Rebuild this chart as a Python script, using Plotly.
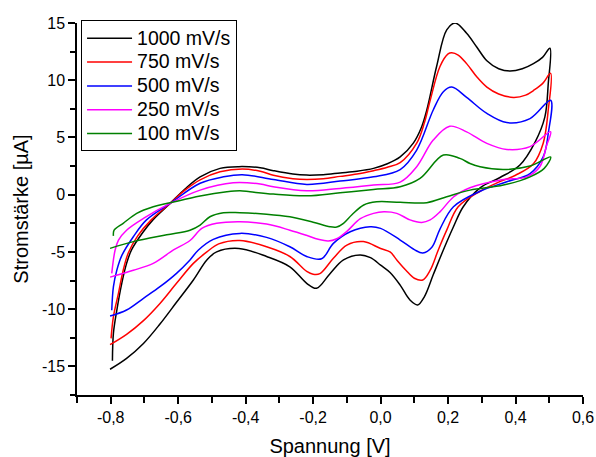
import plotly.graph_objects as go

# ---- data (potential in V, current in µA), scan order: forward then reverse ----
v1000 = [-0.795, -0.792, -0.782, -0.767, -0.753, -0.738, -0.705, -0.675, -0.624, -0.58, -0.535, -0.476, -0.42, -0.357,
         -0.318, -0.26, -0.219, -0.17, -0.12, -0.07, -0.021, 0.02, 0.058, 0.097, 0.12, 0.137, 0.166, 0.196, 0.221,
         0.255, 0.285, 0.315, 0.35, 0.384, 0.42, 0.453, 0.48, 0.502,
         0.497, 0.487, 0.458, 0.413, 0.354, 0.295, 0.245, 0.216, 0.186, 0.156, 0.13, 0.11, 0.087, 0.058, 0.028, 0.0,
         -0.03, -0.061, -0.11, -0.15, -0.19, -0.219, -0.269, -0.338, -0.42, -0.486, -0.515, -0.555, -0.605, -0.654,
         -0.703, -0.753, -0.802]
i1000 = [-14.5, -12.1, -10.1, -7.7, -6.0, -4.8, -3.3, -2.2, -0.76, 0.5, 1.56, 2.3, 2.45, 2.35,
         2.1, 1.8, 1.71, 1.75, 1.9, 2.05, 2.3, 2.7, 3.3, 4.5, 5.8, 7.4, 11.2, 14.4, 15.0,
         14.1, 12.9, 11.7, 11.0, 10.8, 11.0, 11.45, 12.0, 12.8,
         9.7, 6.8, 4.6, 2.6, 1.5, 0.6, -1.05, -2.8, -4.83, -7.0, -8.9, -9.63, -9.2, -7.9, -6.8, -6.15,
         -5.5, -5.27, -5.7, -6.9, -8.18, -7.74, -6.3, -5.4, -4.7, -5.0, -5.7, -7.45, -9.4, -11.3,
         -13.0, -14.3, -15.25]

v750 = [-0.799, -0.792, -0.777, -0.763, -0.748, -0.72, -0.68, -0.624, -0.58, -0.535, -0.476, -0.41, -0.357,
        -0.318, -0.26, -0.219, -0.17, -0.12, -0.07, -0.021, 0.02, 0.058, 0.107, 0.13, 0.147, 0.176, 0.2, 0.211,
        0.23, 0.255, 0.285, 0.315, 0.35, 0.394, 0.43, 0.453, 0.48, 0.504,
        0.497, 0.482, 0.453, 0.40, 0.35, 0.295, 0.23, 0.196, 0.171, 0.147, 0.125, 0.1, 0.075, 0.048, 0.028, 0.0,
        -0.051, -0.1, -0.14, -0.18, -0.2, -0.219, -0.269, -0.338, -0.417, -0.48, -0.515, -0.555, -0.605, -0.654,
        -0.703, -0.753, -0.802]
i750 = [-12.55, -10.65, -8.6, -6.6, -5.1, -3.6, -2.2, -0.76, 0.4, 1.3, 2.0, 2.25, 2.05,
        1.7, 1.4, 1.33, 1.4, 1.6, 1.8, 2.1, 2.4, 2.8, 4.5, 6.3, 8.25, 11.2, 12.3, 12.4,
        12.2, 11.45, 10.3, 9.4, 8.8, 8.5, 8.7, 9.1, 9.7, 10.6,
        7.4, 4.5, 2.7, 1.7, 1.1, 0.3, -1.05, -3.1, -4.83, -6.6, -7.45, -7.3, -6.6, -5.7, -5.0, -4.7,
        -4.1, -4.4, -5.56, -6.9, -6.95, -6.7, -5.4, -4.55, -4.0, -4.3, -5.0, -6.0, -7.74, -9.5,
        -11.0, -12.2, -13.1]

v500 = [-0.797, -0.792, -0.782, -0.767, -0.733, -0.694, -0.624, -0.535, -0.466, -0.41, -0.318, -0.219, -0.12,
        -0.021, 0.058, 0.107, 0.156, 0.186, 0.211, 0.255, 0.315, 0.374, 0.443, 0.504,
        0.497, 0.482, 0.443, 0.374, 0.295, 0.216, 0.176, 0.152, 0.125, 0.1, 0.058, 0.0, -0.031, -0.09, -0.14,
        -0.175, -0.219, -0.269, -0.338, -0.417, -0.496, -0.54, -0.565, -0.605, -0.654, -0.703, -0.753, -0.802]
i500 = [-10.1, -8.04, -6.6, -5.3, -3.67, -2.2, -0.76, 1.0, 1.56, 1.75, 1.33, 0.9, 1.19,
        1.56, 2.2, 3.9, 7.4, 9.0, 9.4, 8.5, 7.1, 6.3, 6.65, 8.25,
        5.35, 3.3, 1.85, 1.13, 0.3, -1.05, -3.0, -4.6, -5.1, -4.8, -3.96, -2.94, -2.8, -3.24, -4.25,
        -5.6, -5.4, -4.55, -3.73, -3.38, -3.9, -4.83, -5.7, -6.87, -8.04, -9.05, -10.07, -10.6]

v250 = [-0.797, -0.787, -0.777, -0.753, -0.703, -0.624, -0.535, -0.437, -0.357, -0.318, -0.219, -0.12,
        -0.021, 0.058, 0.107, 0.156, 0.205, 0.255, 0.315, 0.374, 0.443, 0.504,
        0.492, 0.472, 0.433, 0.36, 0.265, 0.216, 0.176, 0.147, 0.122, 0.087, 0.048, 0.01, -0.021, -0.06, -0.1,
        -0.13, -0.155, -0.185, -0.22, -0.269, -0.338, -0.417, -0.486, -0.53, -0.565, -0.614, -0.674, -0.733, -0.802]
i250 = [-6.87, -4.83, -3.96, -3.1, -2.07, -0.76, 0.4, 1.04, 0.93, 0.69, 0.34, 0.55,
        0.84, 1.1, 2.44, 4.77, 5.98, 5.49, 4.48, 3.95, 4.2, 5.5,
        4.3, 2.44, 1.56, 1.3, 0.6, -0.2, -1.5, -2.2, -2.42, -2.2, -1.63, -1.5, -1.63, -2.1, -3.2,
        -3.85, -4.05, -3.9, -3.55, -3.1, -2.57, -2.36, -2.5, -2.95, -4.0, -4.83, -6.0, -6.6, -7.2]

v100 = [-0.792, -0.79, -0.763, -0.723, -0.674, -0.624, -0.535, -0.456, -0.417, -0.387, -0.318, -0.219, -0.12,
        -0.021, 0.058, 0.117, 0.186, 0.235, 0.265, 0.295, 0.364, 0.443, 0.504,
        0.485, 0.443, 0.364, 0.265, 0.196, 0.137, 0.058, -0.012, -0.05, -0.085, -0.11, -0.13, -0.15, -0.2, -0.269,
        -0.338, -0.417, -0.466, -0.506, -0.535, -0.565, -0.634, -0.733, -0.802]
i100 = [-3.6, -3.1, -2.5, -1.63, -1.05, -0.71, -0.12, 0.25, 0.34, 0.25, 0.05, -0.1, 0.17,
        0.46, 0.69, 1.42, 3.46, 3.17, 2.73, 2.44, 2.2, 2.5, 3.3,
        2.3, 1.56, 0.84, 0.4, -0.18, -0.7, -0.66, -0.62, -0.9, -1.75, -2.5, -2.82, -2.8, -2.4, -1.93,
        -1.7, -1.58, -1.58, -1.93, -2.65, -3.1, -3.5, -4.1, -4.69]

series_names = ["1000 mV/s", "750 mV/s", "500 mV/s", "250 mV/s", "100 mV/s"]
series_v = [v1000, v750, v500, v250, v100]
series_i = [i1000, i750, i500, i250, i100]
colors = ["#000000", "#ff0000", "#0000ff", "#ff00ff", "#008000"]

x_tickvals = [-0.8, -0.6, -0.4, -0.2, 0.0, 0.2, 0.4, 0.6]
x_ticktext = ["-0,8", "-0,6", "-0,4", "-0,2", "0,0", "0,2", "0,4", "0,6"]
y_tickvals = [-15, -10, -5, 0, 5, 10, 15]
y_ticktext = ["-15", "-10", "-5", "0", "5", "10", "15"]

FONT = "'Liberation Sans', Arial, sans-serif"

fig = go.Figure()
for name, v, i, c in zip(series_names, series_v, series_i, colors):
    fig.add_trace(go.Scatter(x=v, y=i, mode="lines",
                             name="<span style='font-size:19.5px'>" + name + "</span>",
                             line=dict(color=c, width=1.5, shape="spline", smoothing=1.0)))

fig.update_layout(
    width=596, height=457,
    margin=dict(l=77, r=13, t=23, b=62, autoexpand=False),
    paper_bgcolor="white", plot_bgcolor="white",
    font=dict(family=FONT, color="black", size=16),
    showlegend=True,
    legend=dict(x=0.008, y=1.007, xanchor="left", yanchor="top",
                bordercolor="black", borderwidth=1, bgcolor="white",
                font=dict(size=16, family=FONT), tracegroupgap=0, itemwidth=45),
)
fig.update_xaxes(
    range=[-0.9, 0.6], showgrid=False, zeroline=False, automargin=False,
    showline=True, linecolor="black", linewidth=1.5,
    tickmode="array", tickvals=x_tickvals, ticktext=x_ticktext,
    ticks="outside", ticklen=7, tickwidth=1.5, tickcolor="black",
    tickfont=dict(size=16),
    minor=dict(tickmode="linear", tick0=-0.9, dtick=0.1, ticks="outside", ticklen=6,
               tickwidth=1.5, tickcolor="black"),
    title=dict(text="Spannung [V]", font=dict(size=20), standoff=17),
)
fig.update_yaxes(
    range=[-17.5, 15], showgrid=False, zeroline=False, automargin=False,
    showline=True, linecolor="black", linewidth=1.5,
    tickmode="array", tickvals=y_tickvals, ticktext=y_ticktext,
    ticks="outside", ticklen=7, tickwidth=1.5, tickcolor="black",
    tickfont=dict(size=16),
    minor=dict(tickmode="linear", tick0=-17.5, dtick=2.5, ticks="outside", ticklen=5,
               tickwidth=1.5, tickcolor="black"),
    title=dict(text="Stromstärke [µA]", font=dict(size=20), standoff=8),
)

fig.write_html("out.html", config={"displayModeBar": False},
               post_script="document.body.style.margin='0';")
